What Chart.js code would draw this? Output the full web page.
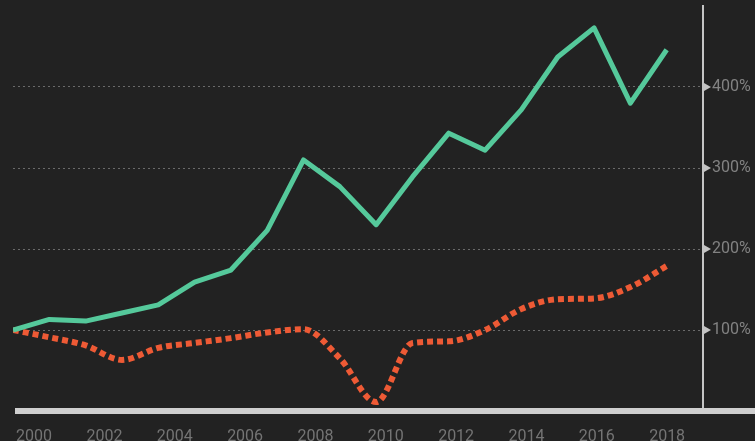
<!DOCTYPE html>
<html>
<head>
<meta charset="utf-8">
<script src="https://cdn.jsdelivr.net/npm/chart.js@4"></script>
<style>
  html, body { margin: 0; padding: 0; background: #222222; }
  #wrap { width: 755px; height: 441px; }
</style>
</head>
<body>
<div id="wrap"><canvas id="growthChart"></canvas></div>
<script>
// Years and indexed values (2000 = 100%)
const years = [2000, 2001, 2002, 2003, 2004, 2005, 2006, 2007, 2008, 2009,
               2010, 2011, 2012, 2013, 2014, 2015, 2016, 2017, 2018];
const greenSeries = [100, 113, 111, 121, 131, 159, 174, 223, 310, 277,
                     230, 289, 343, 322, 372, 437, 473, 380, 446];
const redSeries = [100, 91, 81, 63, 78, 84, 90, 97, 101, 65,
                   11, 84, 86, 100, 126, 138, 139, 153, 179];
const yearTicks = [2000, 2002, 2004, 2006, 2008, 2010, 2012, 2014, 2016, 2018];
const percentTicks = [100, 200, 300, 400];

const AXIS_GREY = '#c4c4c4';

// thick base line under the plot, running to the right edge
const baseLine = {
  id: 'baseLine',
  afterDatasetsDraw(chart) {
    const { ctx, scales } = chart;
    const y = scales.y.getPixelForValue(0);
    ctx.save();
    ctx.fillStyle = '#cfcfcf';
    ctx.fillRect(chart.chartArea.left + 2, y - 3, chart.width, 6);
    ctx.restore();
  }
};

// little arrow heads on the right axis next to each gridline
const tickArrows = {
  id: 'tickArrows',
  afterDraw(chart) {
    const { ctx, scales, chartArea } = chart;
    ctx.save();
    ctx.fillStyle = AXIS_GREY;
    percentTicks.forEach(v => {
      const y = scales.y.getPixelForValue(v);
      const x = chartArea.right + 1;
      ctx.beginPath();
      ctx.moveTo(x, y - 4);
      ctx.lineTo(x + 7, y);
      ctx.lineTo(x, y + 4);
      ctx.closePath();
      ctx.fill();
    });
    ctx.restore();
  }
};

new Chart(document.getElementById('growthChart'), {
  type: 'line',
  data: {
    datasets: [{
      data: years.map((yr, i) => ({ x: yr, y: greenSeries[i] })),
      borderColor: '#55c99b',
      borderWidth: 5,
      pointRadius: 0,
      tension: 0,
      borderJoinStyle: 'round',
      xAxisID: 'x'
    }, {
      data: years.map((yr, i) => ({ x: yr, y: redSeries[i] })),
      borderColor: '#ee5a35',
      borderWidth: 6,
      borderDash: [6, 4],
      borderCapStyle: 'butt',
      pointRadius: 0,
      tension: 0.3,
      cubicInterpolationMode: 'monotone',
      xAxisID: 'x'
    }]
  },
  options: {
    responsive: true,
    maintainAspectRatio: false,
    animation: false,
    devicePixelRatio: 1,
    layout: { padding: { left: 13, top: 6, right: 0, bottom: 0 } },
    plugins: { legend: { display: false }, tooltip: { enabled: false } },
    scales: {
      x: {
        type: 'linear',
        display: false,
        min: 2000,
        max: 2019
      },
      // year labels sit on their own axis
      xl: {
        type: 'linear',
        position: 'bottom',
        min: 1999.4,
        max: 2019.02,
        grid: { display: false, drawTicks: false },
        border: { display: false },
        afterBuildTicks(scale) {
          scale.ticks = yearTicks.map(v => ({ value: v }));
        },
        afterFit(scale) {
          scale.height = 30;
          scale.paddingLeft = 0;
          scale.paddingRight = 0;
        },
        ticks: {
          color: '#747474',
          font: { family: 'Roboto', size: 16 },
          padding: 16,
          maxRotation: 0,
          autoSkip: false,
          callback: v => String(v)
        }
      },
      y: {
        position: 'right',
        min: 0,
        max: 500,
        afterBuildTicks(scale) {
          scale.ticks = [0].concat(percentTicks, [500]).map(v => ({ value: v }));
        },
        afterFit(scale) {
          scale.width = 52;
          scale.paddingTop = 0;
          scale.paddingBottom = 0;
        },
        grid: {
          drawTicks: false,
          color: c => percentTicks.includes(c.tick.value) ? '#6a6a6a' : 'transparent',
          lineWidth: 1
        },
        border: { display: true, color: AXIS_GREY, width: 2, dash: [2, 3] },
        ticks: {
          color: '#828282',
          font: { family: 'Roboto', size: 16 },
          padding: 9,
          callback: v => percentTicks.includes(v) ? v + '%' : ''
        }
      }
    }
  },
  plugins: [baseLine, tickArrows]
});
</script>
</body>
</html>
